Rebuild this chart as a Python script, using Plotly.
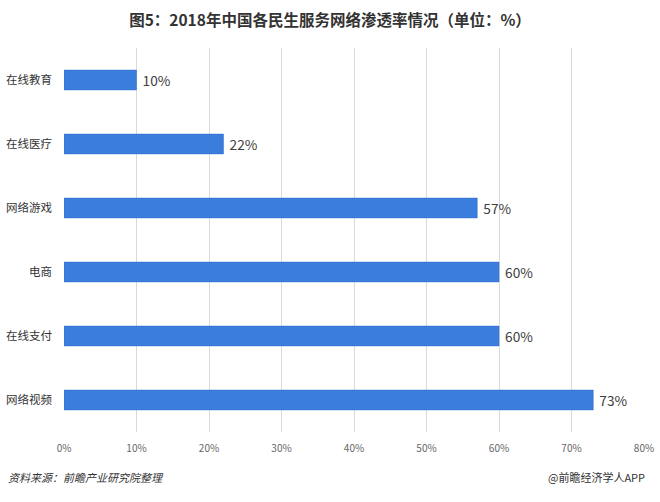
import plotly.graph_objects as go

categories = ["在线教育", "在线医疗", "网络游戏", "电商", "在线支付", "网络视频"]
values = [10, 22, 57, 60, 60, 73]
labels = ["10%", "22%", "57%", "60%", "60%", "73%"]
x_ticks = [0, 10, 20, 30, 40, 50, 60, 70, 80]
x_tick_text = ["0%", "10%", "20%", "30%", "40%", "50%", "60%", "70%", "80%"]

font_family = "Noto Sans CJK SC, Noto Sans, sans-serif"

fig = go.Figure()
fig.add_trace(go.Bar(
    y=categories, x=values, orientation="h",
    marker=dict(color="#3b7ddd", line=dict(color="#2f6cc8", width=0.5)),
    text=[" " + t for t in labels], textposition="outside",
    textfont=dict(size=14.5, color="#404040", family=font_family),
    cliponaxis=False,
))

fig.update_layout(
    width=660, height=502,
    margin=dict(l=64, r=16, t=48, b=70),
    paper_bgcolor="white", plot_bgcolor="white",
    bargap=0.69,
    showlegend=False,
    font=dict(family=font_family),
    title=dict(text="<b>图5：2018年中国各民生服务网络渗透率情况（单位：%）</b>",
               x=0.5, xanchor="center", y=0.96, yanchor="middle",
               font=dict(size=15.5, color="#333333", family=font_family)),
    xaxis=dict(range=[0, 80], tickvals=x_ticks, ticktext=x_tick_text,
               showgrid=True, gridcolor="#d9d9d9", gridwidth=1,
               zeroline=False, showline=False, ticks="", automargin=False,
               tickfont=dict(size=10, color="#666666"), ticklabelstandoff=9),
    yaxis=dict(autorange="reversed", showgrid=False, showline=False, ticks="",
               automargin=False,
               tickfont=dict(size=11.5, color="#333333"), ticklabelstandoff=11),
)

fig.add_annotation(text="<i>资料来源：前瞻产业研究院整理</i>", xref="paper", yref="paper",
                   x=-0.1, xanchor="left", y=-0.118, yanchor="middle", showarrow=False,
                   font=dict(size=11, color="#333333", family=font_family))
fig.add_annotation(text="@前瞻经济学人APP", xref="paper", yref="paper",
                   x=1.005, xanchor="right", y=-0.118, yanchor="middle", showarrow=False,
                   font=dict(size=11, color="#333333", family=font_family))

fig.write_html("out.html")
